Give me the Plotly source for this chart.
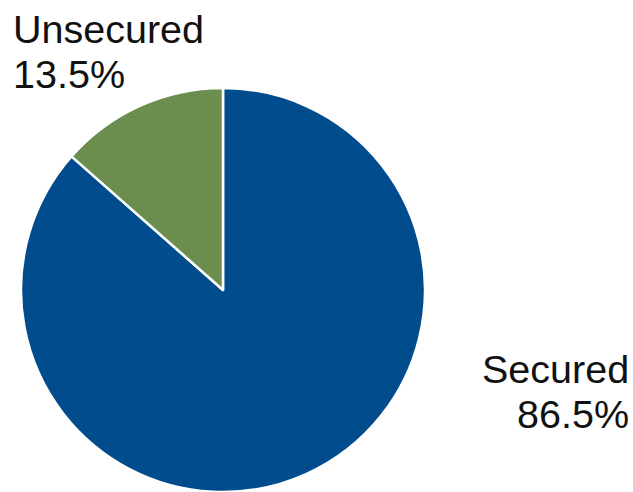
import plotly.graph_objects as go

labels = ["Secured", "Unsecured"]
values = [86.5, 13.5]
colors = ["#004C8C", "#6B8E4E"]

W, H = 633, 492

fig = go.Figure(go.Pie(
    labels=labels,
    values=values,
    sort=False,
    direction="clockwise",
    rotation=0,
    marker=dict(colors=colors, line=dict(color="white", width=2.5)),
    textinfo="none",
    hoverinfo="label+percent",
    domain=dict(x=[21 / W, 425 / W], y=[0, 404 / H]),
    showlegend=False,
))

font = dict(family="Liberation Sans, Arial, sans-serif", size=39.5, color="#111111")


def ann(text, xpx, baseline, anchor):
    cy = baseline - 0.35 * font["size"]
    return dict(text=text, x=xpx / W, y=1 - cy / H, xref="paper", yref="paper",
                xanchor=anchor, yanchor="middle", showarrow=False, font=font,
                borderpad=0)


fig.update_layout(
    width=W, height=H,
    margin=dict(l=0, r=0, t=0, b=0),
    paper_bgcolor="white",
    plot_bgcolor="white",
    annotations=[
        ann(labels[1], 12, 43, "left"),
        ann(f"{values[1]}%", 12, 88, "left"),
        ann(labels[0], 630, 383, "right"),
        ann(f"{values[0]}%", 630, 428, "right"),
    ],
)

fig.write_html("out.html")
